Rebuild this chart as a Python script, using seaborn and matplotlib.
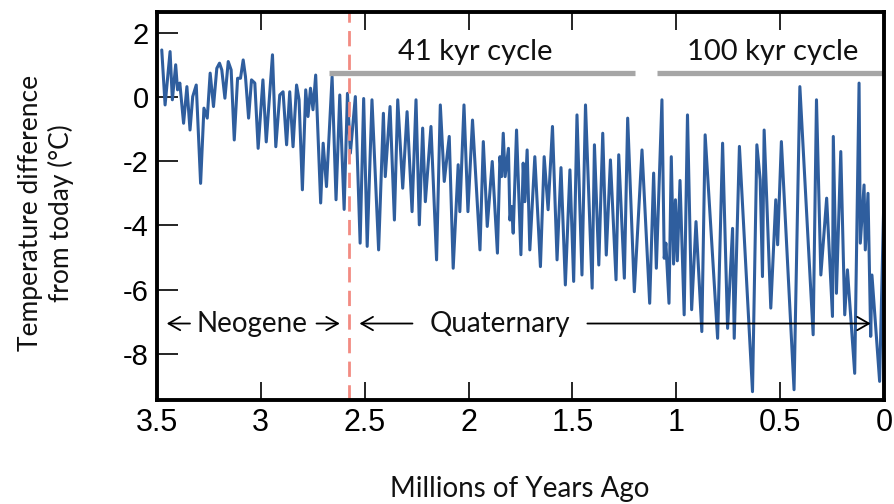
import matplotlib
matplotlib.use("Agg")
import numpy as np
import pandas as pd
import seaborn as sns
import matplotlib.pyplot as plt

# temperature record, millions of years ago vs deg C
age_ma = [
    3.477, 3.461, 3.437, 3.426, 3.410, 3.401, 3.390, 3.372, 3.356, 3.341,
    3.328, 3.311, 3.290, 3.274, 3.258, 3.244, 3.228, 3.212, 3.199, 3.188,
    3.173, 3.157, 3.143, 3.128, 3.112, 3.098, 3.085, 3.074, 3.059, 3.045,
    3.029, 3.013, 2.990, 2.974, 2.944, 2.928, 2.909, 2.893, 2.876, 2.861,
    2.845, 2.828, 2.816, 2.800, 2.784, 2.773, 2.761, 2.749, 2.736, 2.712,
    2.700, 2.684, 2.657, 2.638, 2.620, 2.599, 2.583, 2.569, 2.545, 2.522,
    2.505, 2.488, 2.465, 2.433, 2.410, 2.401, 2.378, 2.357, 2.341, 2.317,
    2.296, 2.272, 2.253, 2.237, 2.221, 2.208, 2.181, 2.154, 2.136, 2.117,
    2.093, 2.074, 2.050, 2.042, 2.022, 2.003, 1.981, 1.945, 1.929, 1.910,
    1.886, 1.861, 1.849, 1.841, 1.833, 1.824, 1.808, 1.801, 1.793, 1.785,
    1.769, 1.748, 1.737, 1.729, 1.718, 1.705, 1.681, 1.654, 1.636, 1.617,
    1.596, 1.574, 1.555, 1.534, 1.512, 1.494, 1.478, 1.454, 1.437, 1.405,
    1.394, 1.373, 1.354, 1.337, 1.317, 1.290, 1.277, 1.250, 1.234, 1.202,
    1.165, 1.128, 1.109, 1.096, 1.069, 1.058, 1.050, 1.035, 1.024, 1.013,
    1.004, 0.995, 0.982, 0.962, 0.946, 0.926, 0.905, 0.877, 0.861, 0.801,
    0.777, 0.753, 0.729, 0.721, 0.696, 0.633, 0.612, 0.596, 0.585, 0.577,
    0.545, 0.521, 0.512, 0.494, 0.433, 0.405, 0.341, 0.325, 0.304, 0.276,
    0.248, 0.244, 0.229, 0.208, 0.189, 0.176, 0.141, 0.120, 0.114, 0.096,
    0.090, 0.077, 0.064, 0.058, 0.021, 0.000,
]
temp_diff = [
    1.46, -0.25, 1.41, -0.09, 1.00, 0.22, 0.43, -0.82, 0.32, -1.03,
    0.01, 0.37, -2.69, -0.35, -0.66, 0.74, -0.30, 0.89, 1.05, 0.84,
    -0.04, 1.10, 0.84, -1.34, 0.58, 0.58, 1.15, 0.63, -0.66, 0.53,
    0.43, -1.60, 0.53, -1.40, 1.31, -1.55, 0.06, 0.16, -1.49, 0.16,
    -1.55, 0.37, -0.09, -2.89, 0.22, -0.61, 0.27, -0.40, 0.68, -3.30,
    -1.44, -2.79, 0.63, -3.20, 0.06, -3.50, 0.11, -1.75, 0.01, -4.55,
    -0.05, -4.65, -0.09, -4.76, -0.51, -2.48, -0.30, -3.83, -0.09, -2.84,
    -0.46, -3.57, -0.09, -3.98, -0.97, -3.26, -0.92, -5.07, -0.25, -2.63,
    -1.23, -5.33, -2.11, -3.57, -0.25, -3.57, -0.72, -4.76, -1.39, -4.03,
    -2.01, -4.86, -1.86, -2.48, -1.13, -2.48, -1.60, -3.83, -3.41, -4.24,
    -1.03, -4.91, -2.06, -3.26, -1.65, -4.76, -1.86, -5.28, -1.86, -3.51,
    -0.92, -5.07, -2.20, -5.85, -2.27, -5.74, -0.56, -5.54, -0.25, -5.95,
    -1.49, -5.23, -1.13, -4.92, -1.96, -5.69, -1.80, -5.64, -0.66, -6.06,
    -1.65, -6.42, -2.37, -5.33, -0.09, -5.02, -4.55, -6.42, -1.86, -5.20,
    -3.20, -5.10, -2.60, -6.78, -0.56, -6.62, -3.88, -7.30, -1.18, -7.51,
    -1.44, -7.20, -4.09, -7.51, -1.54, -9.17, -1.49, -2.58, -5.59, -1.03,
    -6.57, -3.20, -4.60, -1.39, -9.11, 0.32, -7.40, -0.09, -5.54, -3.15,
    -6.83, -1.23, -6.11, -1.70, -6.78, -5.38, -8.60, 0.43, -4.55, -2.74,
    -4.76, -3.00, -7.45, -5.54, -8.85, -3.00,
]

xticks = [3.5, 3, 2.5, 2, 1.5, 1, 0.5, 0]
xtick_labels = ["3.5", "3", "2.5", "2", "1.5", "1", "0.5", "0"]
yticks = [2, 0, -2, -4, -6, -8]

quaternary_start = 2.575
cycle_41_span = (2.673, 1.20)
cycle_100_span = (1.093, 0.0)

sns.set_theme(style="white")
plt.rcParams["font.family"] = ["Liberation Sans Narrow", "Liberation Sans", "DejaVu Sans"]
plt.rcParams["text.color"] = "black"
hand = ["Lato", "DejaVu Sans"]

fig = plt.figure(figsize=(8.94, 5.04), dpi=100)
ax = fig.add_axes([0.1756, 0.2063, 0.8132, 0.7698])

df = pd.DataFrame({"age": age_ma, "temp": temp_diff})
sns.lineplot(data=df, x="age", y="temp", ax=ax, color="#2f5e9e", lw=2.2,
             estimator=None, sort=False)

ax.set_xlim(3.5, 0)
ax.set_ylim(-9.43, 2.64)
ax.set_xticks(xticks)
ax.set_xticklabels(xtick_labels)
ax.set_yticks(yticks)
ax.set_yticklabels([str(v) for v in yticks])
ax.tick_params(axis="x", direction="in", length=13, width=1.2, top=True, bottom=True,
               labelsize=22, pad=6, colors="black")
ax.tick_params(axis="y", direction="in", length=15, width=1.2, left=True, right=False,
               labelsize=21, pad=6, colors="black")
for s in ax.spines.values():
    s.set_linewidth(2.8)
    s.set_color("black")
ax.set_xlabel("")
ax.set_ylabel("")

# boundary and cycle bars
ax.axvline(quaternary_start, color="#f28b82", lw=2, ls=(0, (5.5, 3)))
ax.plot(cycle_41_span, [0.74, 0.74], color="#a6a6a6", lw=3.8, solid_capstyle="butt")
ax.plot(cycle_100_span, [0.74, 0.74], color="#a6a6a6", lw=3.8, solid_capstyle="butt")
ax.text(1.966, 1.41, "41 kyr cycle", ha="center", va="center", fontsize=21,
        family=hand, color="#111111")
ax.text(0.534, 1.41, "100 kyr cycle", ha="center", va="center", fontsize=21,
        family=hand, color="#111111")

# era labels with arrows
arr = dict(arrowstyle="->,head_length=0.7,head_width=0.4", lw=1.3, color="black",
           shrinkA=0, shrinkB=0)
y_era = -7.05
ax.text(3.041, y_era, "Neogene", ha="center", va="center", fontsize=20,
        family=hand, color="#111111")
ax.annotate("", xy=(3.453, y_era), xytext=(3.341, y_era), arrowprops=arr)
ax.annotate("", xy=(2.620, y_era), xytext=(2.732, y_era), arrowprops=arr)
ax.text(1.849, y_era, "Quaternary", ha="center", va="center", fontsize=20,
        family=hand, color="#111111")
ax.annotate("", xy=(2.525, y_era), xytext=(2.27, y_era), arrowprops=arr)
ax.annotate("", xy=(0.064, y_era), xytext=(1.428, y_era), arrowprops=arr)

fig.text(46 / 894, 1 - 213 / 504, "Temperature difference\nfrom today (°C)",
         rotation=90, ha="center", va="center", fontsize=19, family=hand,
         color="#111111")
fig.text(520 / 894, 1 - 489 / 504, "Millions of Years Ago", ha="center", va="center",
         fontsize=20, family=hand, color="#111111")

fig.savefig("out.png", dpi=100)
